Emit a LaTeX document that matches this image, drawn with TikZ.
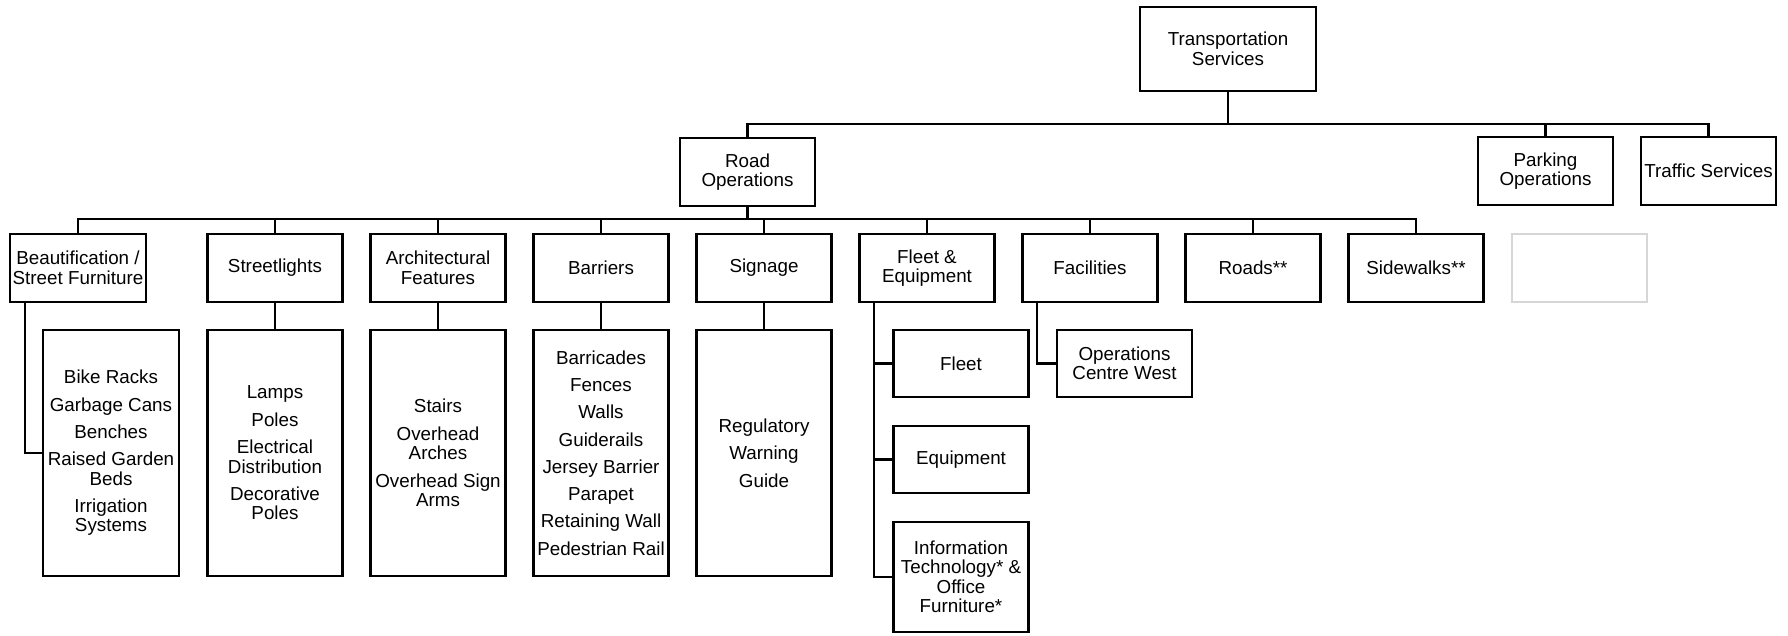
\documentclass[tikz,border=0pt]{standalone}
\usepackage{fontspec}
\setmainfont{Liberation Sans}
\begin{document}
\begin{tikzpicture}[x=1pt,y=1pt,
  unit/.style={draw=black,line width=2.8pt,fill=white,inner sep=0pt,align=center,
    minimum width=135pt,minimum height=68pt,font=\fontsize{18.8}{19.5}\selectfont},
  listunit/.style={unit,minimum height=246pt},
  link/.style={draw=black,line width=2.8pt}]
\definecolor{blankColor}{gray}{0.84}
\path[use as bounding box,fill=white] (0,0) rectangle (1788,636);

\coordinate (topbar) at (0,512);
\coordinate (roadbar) at (0,417);

\node[unit,minimum width=176pt,minimum height=84pt] (trans) at (1228,587) {Transportation\\Services};

\node[unit] (road) at (747.5,464) {Road\\Operations};
\node[unit] (parking) at (1545.5,465) {Parking\\Operations};
\node[unit] (traffic) at (1708.5,465) {Traffic Services};

\node[unit,minimum width=136pt] (beaut) at (78,368) {Beautification /\\Street Furniture};
\node[unit] (lights) at (275,368) {Streetlights};
\node[unit] (arch) at (438,368) {Architectural\\Features};
\node[unit] (barriers) at (601,368) {Barriers};
\node[unit] (signage) at (764,368) {Signage};
\node[unit] (fleet) at (927,368) {Fleet \&\\Equipment};
\node[unit] (facil) at (1090,368) {Facilities};
\node[unit] (roads) at (1253,368) {Roads**};
\node[unit] (sidewalks) at (1416,368) {Sidewalks**};
\node[unit,draw=blankColor,line width=1.2pt] (spare) at (1579.5,368) {};

% item lists under the units
\node[listunit,minimum width=136pt] (beautlist) at (111,183)
  {Bike Racks\\[7.8pt]Garbage Cans\\[7.8pt]Benches\\[7.8pt]Raised Garden\\Beds\\[7.8pt]Irrigation\\Systems};
\node[listunit] (lightslist) at (275,183)
  {Lamps\\[7.8pt]Poles\\[7.8pt]Electrical\\Distribution\\[7.8pt]Decorative\\Poles};
\node[listunit] (archlist) at (438,183)
  {Stairs\\[7.8pt]Overhead\\Arches\\[7.8pt]Overhead Sign\\Arms};
\node[listunit] (barrierslist) at (601,183)
  {Barricades\\[7.8pt]Fences\\[7.8pt]Walls\\[7.8pt]Guiderails\\[7.8pt]Jersey Barrier\\[7.8pt]Parapet\\[7.8pt]Retaining Wall\\[7.8pt]Pedestrian Rail};
\node[listunit] (signagelist) at (764,183)
  {Regulatory\\[7.8pt]Warning\\[7.8pt]Guide};

\node[unit,minimum height=67pt] (fleetsub) at (961,272.5) {Fleet};
\node[unit,minimum height=67pt] (equip) at (961,176.5) {Equipment};
\node[unit,minimum height=110pt] (itoffice) at (961,59) {Information\\Technology* \&\\Office\\Furniture*};
\node[unit,minimum height=67pt] (opswest) at (1124.5,272.5) {Operations\\Centre West};

\coordinate (beauttrunk) at (25,0);
\coordinate (fleettrunk) at (874,0);
\coordinate (faciltrunk) at (1037,0);

\foreach \n in {road,parking,traffic}
  \draw[link] (trans.south) -- (trans.south |- topbar) -| (\n.north);
\foreach \n in {beaut,lights,arch,barriers,signage,fleet,facil,roads,sidewalks}
  \draw[link] (road.south) -- (road.south |- roadbar) -| (\n.north);
\foreach \n in {lights,arch,barriers,signage}
  \draw[link] (\n.south) -- (\n list.north);

\draw[link] (beaut.south -| beauttrunk) |- (beautlist.west);
\draw[link] (fleet.south -| fleettrunk) |- (itoffice.west);
\draw[link] (fleetsub.west -| fleettrunk) -- (fleetsub.west);
\draw[link] (equip.west -| fleettrunk) -- (equip.west);
\draw[link] (facil.south -| faciltrunk) |- (opswest.west);
\end{tikzpicture}
\end{document}
